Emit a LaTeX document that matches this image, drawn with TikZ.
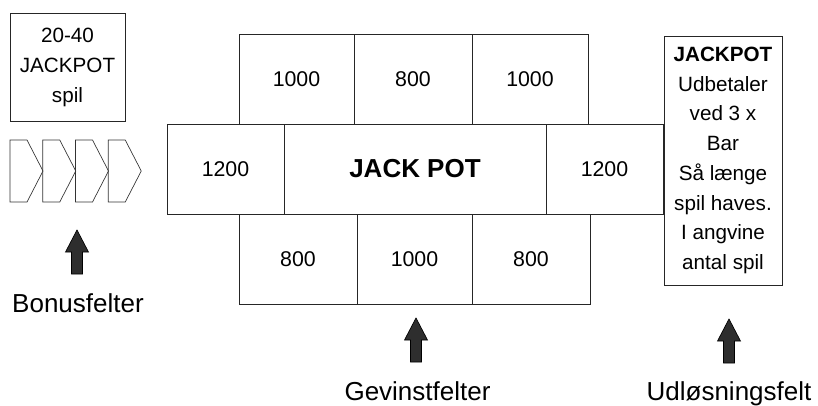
\documentclass[tikz,border=0pt]{standalone}
\usepackage{fontspec}
\setmainfont{Liberation Sans}
\usetikzlibrary{positioning}

\tikzset{
  cell/.style={draw=black!85, line width=0.7pt, inner sep=0pt, outer sep=0pt, minimum height=67.5pt, font=\fontsize{16}{18}\selectfont},
  infobox/.style={draw=black!85, line width=0.7pt, inner sep=0pt, outer sep=0pt, align=center},
  caption/.style={anchor=base, font=\fontsize{19.5}{22}\selectfont},
  chevron/.style={draw=black!80, line width=0.5pt},
  arrowfill/.style={fill=black!82, draw=black, line width=0.5pt},
  pics/uparrow/.style={code={
    \filldraw [arrowfill] (-5.5,0) -- (-5.5,-22) -- (-11.5,-22) -- (0,-44) -- (11.5,-22) -- (5.5,-22) -- (5.5,0) -- cycle;
  }}
}

\begin{document}
\begin{tikzpicture}[x=0.75pt, y=-0.75pt]
    \useasboundingbox (0, 0) rectangle (818, 405);

    % bonus
    \node [infobox, minimum width=86.25pt, minimum height=81pt, font=\fontsize{15.5}{22.5}\selectfont] (bonusbox) at (67.5, 67) {20-40\\JACKPOT\\spil};
    \foreach \i in {0, ..., 3}
      \draw [chevron] ({10 + 32.75*\i}, 140) -- ++(17, 0) -- ++(16, 31) -- ++(-16, 31) -- ++(-17, 0) -- cycle;

    % gevinstfelter
    \foreach \x/\w/\v [count=\i] in {296.5/86.25/1000, 413/88.5/800, 530/87/1000}
      \node [cell, minimum width=\w pt] (top\i) at (\x, 79) {\v};
    \node [cell, minimum width=87.75pt] (midleft) at (225.5, 169) {1200};
    \node [cell, minimum width=196.5pt, font=\fontsize{19.5}{22}\selectfont\bfseries] (jackpot) at (415, 169) {JACK POT};
    \node [cell, minimum width=87.75pt] (midright) at (604.5, 169) {1200};
    \foreach \x/\w/\v [count=\i] in {298/88.5/800, 414.5/86.25/1000, 531/88.5/800}
      \node [cell, minimum width=\w pt] (bot\i) at (\x, 259) {\v};

    % udloesning
    \node [infobox, minimum width=88.5pt, minimum height=186.75pt, font=\fontsize{15.5}{22.3}\selectfont] (trigger) at (723, 160.5)
      {\textbf{JACKPOT}\\Udbetaler\\ved 3 x\\Bar\\Så længe\\spil haves.\\I angvine\\antal spil};

    % pile og tekster
    \node [caption] (bonuslbl) at (78, 312) {Bonusfelter};
    \node [caption] (gevinstlbl) at (417.5, 400) {Gevinstfelter};
    \node [caption] (triggerlbl) at (729, 400) {Udløsningsfelt};
    \pic at (77, 274) {uparrow};
    \pic at (416, 362) {uparrow};
    \pic at (729, 363) {uparrow};
  \end{tikzpicture}
\end{document}
